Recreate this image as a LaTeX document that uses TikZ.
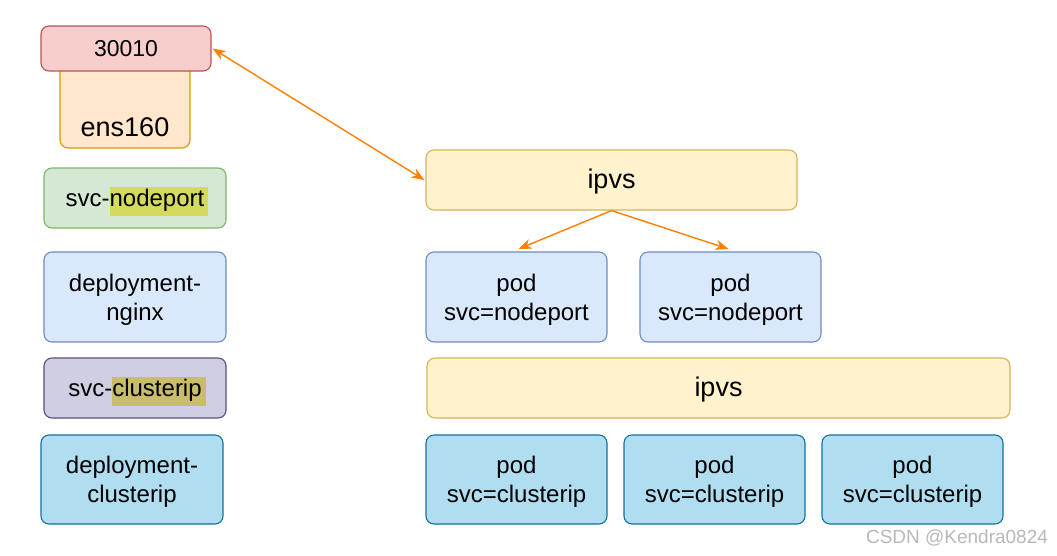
\documentclass[tikz,border=0pt]{standalone}
\usepackage{fontspec}
\setmainfont{Liberation Sans}
\usetikzlibrary{arrows.meta}
\definecolor{fRed}{HTML}{F8CECC}\definecolor{dRed}{HTML}{B85450}
\definecolor{fOra}{HTML}{FFE6CC}\definecolor{dOra}{HTML}{D79B00}
\definecolor{fGrn}{HTML}{D5E8D4}\definecolor{dGrn}{HTML}{82B366}
\definecolor{fBlu}{HTML}{DAE8FC}\definecolor{dBlu}{HTML}{6C8EBF}
\definecolor{fPur}{HTML}{D0CEE2}\definecolor{dPur}{HTML}{56517E}
\definecolor{fCya}{HTML}{B1DDF0}\definecolor{dCya}{HTML}{10739E}
\definecolor{fYel}{HTML}{FFF2CC}\definecolor{dYel}{HTML}{D6B656}
\definecolor{arrowc}{HTML}{FF8000}
\definecolor{hlA}{HTML}{D4DA5C}
\definecolor{hlB}{HTML}{C9BD6C}
\newcommand{\hlbox}[2]{{\fboxsep=0pt\colorbox{#1}{\strut #2\kern4pt}}\kern-4pt}
\begin{document}
\begin{tikzpicture}[x=1pt,y=-1pt,
  box/.style={draw, rounded corners=8pt, line width=1.1pt, inner sep=0pt, align=center,
    font=\fontsize{24}{29}\selectfont, text=black},
  two/.style={text depth=0pt},
  hlnode/.style={text depth=2.7pt},
  big/.style={font=\fontsize{27}{32}\selectfont, text depth=1.7pt},
  cred/.style={fill=fRed, draw=dRed},
  cora/.style={fill=fOra, draw=dOra},
  cgrn/.style={fill=fGrn, draw=dGrn},
  cblu/.style={fill=fBlu, draw=dBlu},
  cpur/.style={fill=fPur, draw=dPur},
  ccya/.style={fill=fCya, draw=dCya},
  cyel/.style={fill=fYel, draw=dYel},
  arr/.style={draw=arrowc, line width=1.4pt, -{Stealth[length=13pt,width=10pt,inset=4pt]}},
  dblarr/.style={draw=arrowc, line width=1.4pt, {Stealth[length=13pt,width=10pt,inset=4pt]}-{Stealth[length=13pt,width=10pt,inset=4pt]}}
]
\fill[white] (0,0) rectangle (1057,555);
\useasboundingbox (0,0) rectangle (1057,555);

% left column
\node[box, cora, minimum width=130pt, minimum height=108pt] (ens) at (125,94) {};
\node[font=\fontsize{27}{32}\selectfont, inner sep=0pt] (ensl) at (125,127) {ens160};
\node[box, cred, minimum width=170pt, minimum height=45pt, font=\fontsize{23}{28}\selectfont] (n30010) at (126,48.5) {30010};
\node[box, hlnode, cgrn, minimum width=182pt, minimum height=60pt] (svcnp) at (135,198) {svc-\hlbox{hlA}{nodeport}};
\node[box, two, cblu, minimum width=182pt, minimum height=90pt] (depnginx) at (135,297) {deployment-\\nginx};
\node[box, hlnode, cpur, minimum width=182pt, minimum height=60pt] (svcci) at (135,388) {svc-\hlbox{hlB}{clusterip}};
\node[box, two, ccya, minimum width=182pt, minimum height=89pt] (depci) at (132,479.5) {deployment-\\clusterip};

% right part
\node[box, cyel, big, minimum width=371pt, minimum height=60pt] (ipvsA) at (611.5,180) {ipvs};
\node[box, two, cblu, minimum width=181pt, minimum height=90pt] (podA) at (516.5,297) {pod\\svc=nodeport};
\node[box, two, cblu, minimum width=181pt, minimum height=90pt] (podB) at (730.5,297) {pod\\svc=nodeport};
\node[box, cyel, big, minimum width=583pt, minimum height=60pt] (ipvsB) at (718.5,388) {ipvs};
\node[box, two, ccya, minimum width=181pt, minimum height=89pt] (podC) at (516.5,479.5) {pod\\svc=clusterip};
\node[box, two, ccya, minimum width=181pt, minimum height=89pt] (podD) at (714.5,479.5) {pod\\svc=clusterip};
\node[box, two, ccya, minimum width=181pt, minimum height=89pt] (podE) at (912.5,479.5) {pod\\svc=clusterip};

% connectors
\draw[dblarr] ([xshift=1pt]n30010.east) -- ([xshift=-1pt]ipvsA.west);
\draw[arr] (ipvsA.south) -- ([xshift=2pt,yshift=2.5pt]podA.north);
\draw[arr] (ipvsA.south) -- ([xshift=-2pt,yshift=2.5pt]podB.north);

% watermark
\node[font=\fontsize{19}{22}\selectfont, text=black!28, inner sep=0pt] (wm) at (957,538) {CSDN @Kendra0824};
\end{tikzpicture}
\end{document}
